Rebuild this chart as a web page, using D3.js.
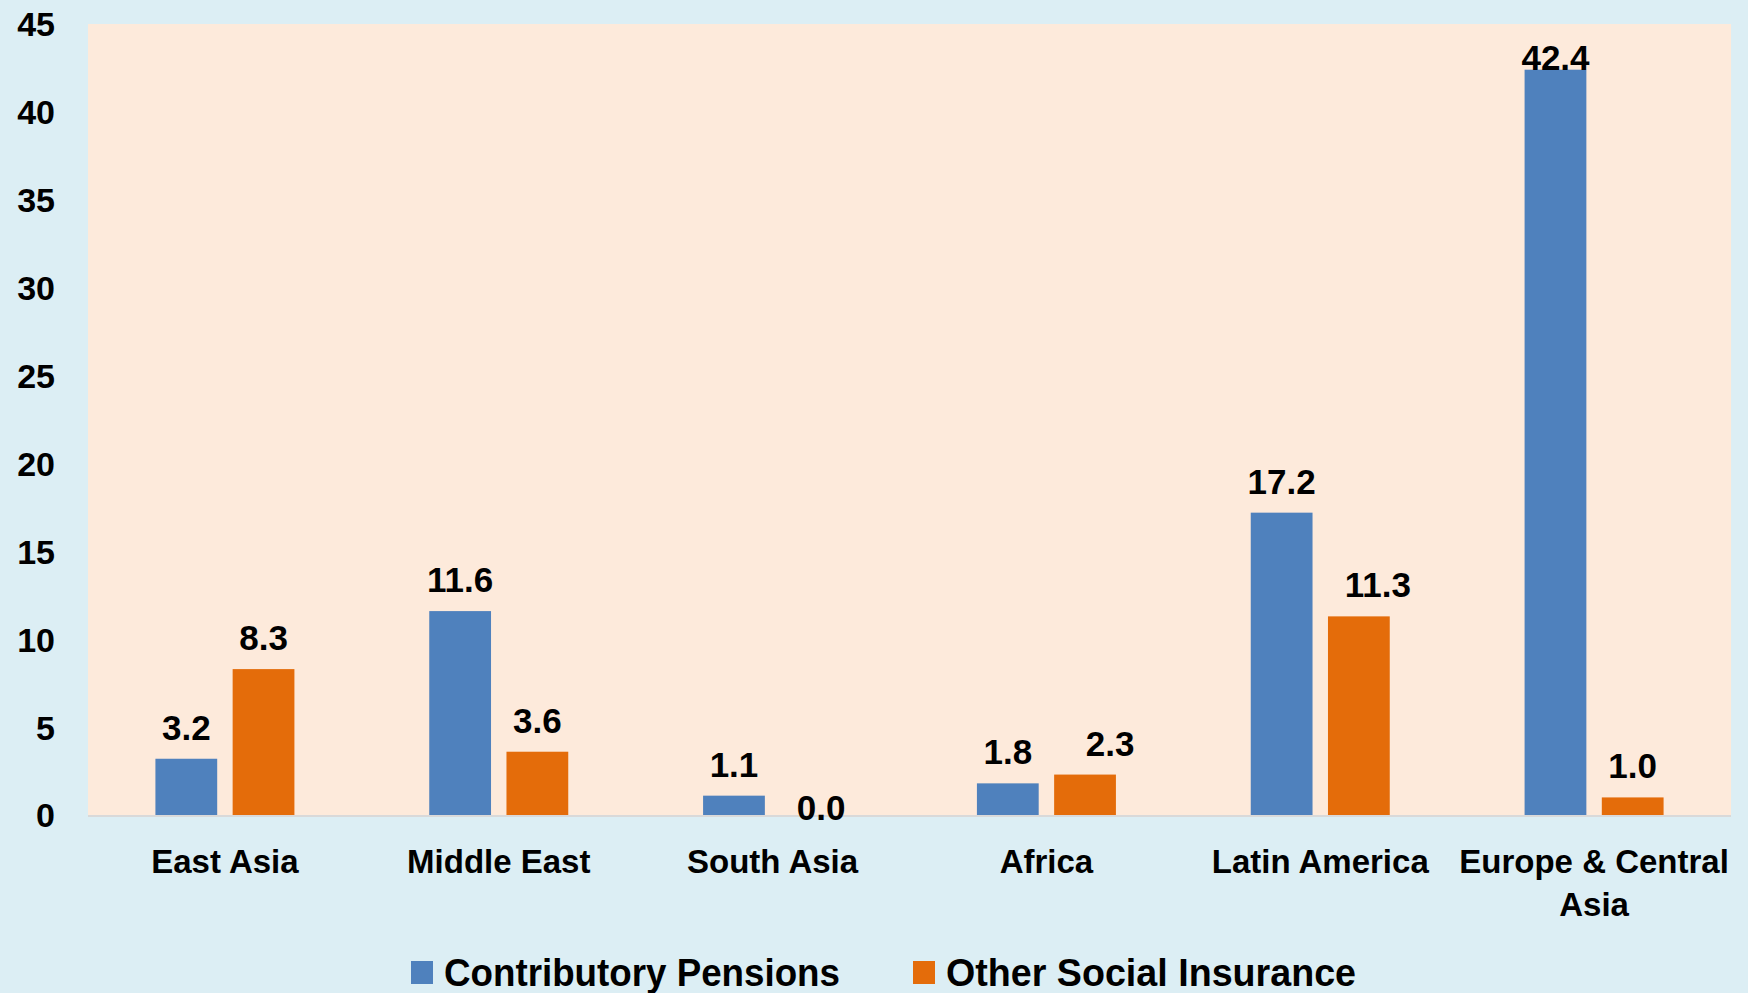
<!DOCTYPE html>
<html>
<head>
<meta charset="utf-8">
<script src="https://cdn.jsdelivr.net/npm/d3@7"></script>
<style>
  html, body { margin: 0; padding: 0; background: #DCEEF4; }
  svg { display: block; }
  text { font-family: "Liberation Sans", Arial, sans-serif; fill: #000; }
</style>
</head>
<body>
<svg id="chart" width="1748" height="993"></svg>
<script>
// Regional spending, two series per region
const categories = ["East Asia", "Middle East", "South Asia", "Africa", "Latin America", "Europe & Central Asia"];
const seriesNames = ["Contributory Pensions", "Other Social Insurance"];
const contributoryPensions = [3.2, 11.6, 1.1, 1.8, 17.2, 42.4];
const otherSocialInsurance = [8.3, 3.6, 0.0, 2.3, 11.3, 1.0];
const yTicks = [0, 5, 10, 15, 20, 25, 30, 35, 40, 45];
const colors = ["#4F81BD", "#E46C0A"];

const seriesValues = [contributoryPensions, otherSocialInsurance];
const rows = categories.map((c, i) => ({
  category: c,
  values: seriesNames.map((s, j) => ({ series: s, idx: j, cat: c, value: seriesValues[j][i] }))
}));

const svg = d3.select("#chart");
const W = 1748, H = 993;
const plot = { left: 88, right: 1731, top: 24, bottom: 815 };

svg.append("rect").attr("width", W).attr("height", H).attr("fill", "#DCEEF4");
svg.append("rect")
  .attr("x", plot.left).attr("y", plot.top)
  .attr("width", plot.right - plot.left).attr("height", plot.bottom - plot.top)
  .attr("fill", "#FDEADB");

const x0 = d3.scaleBand().domain(categories).range([plot.left, plot.right]).paddingInner(0).paddingOuter(0);
const groupW = 139;
const x1 = d3.scaleBand().domain(seriesNames).range([-groupW / 2, groupW / 2]).paddingInner(0.2);
const y = d3.scaleLinear().domain([0, 45]).range([plot.bottom, plot.top]);

// Y axis labels
const yAxis = d3.axisLeft(y).tickValues(yTicks).tickSize(0).tickPadding(0);
const yg = svg.append("g").attr("transform", `translate(55,0)`).call(yAxis);
yg.select(".domain").remove();
yg.selectAll("text")
  .attr("font-family", "Liberation Sans, Arial, sans-serif")
  .attr("font-weight", "bold")
  .attr("font-size", 34)
  .attr("fill", "#000")
  .attr("dy", "0.35em");

// Baseline (under the bars and labels)
svg.append("line")
  .attr("x1", plot.left).attr("x2", plot.right)
  .attr("y1", y(0) + 1).attr("y2", y(0) + 1)
  .attr("stroke", "#D9D9D9").attr("stroke-width", 2);

// Bars
const groups = svg.append("g").selectAll("g").data(rows).join("g")
  .attr("transform", d => `translate(${x0(d.category) + x0.bandwidth() / 2},0)`);

groups.selectAll("rect").data(d => d.values).join("rect")
  .attr("x", d => x1(d.series))
  .attr("width", x1.bandwidth())
  .attr("y", d => y(d.value))
  .attr("height", d => y(0) - y(d.value))
  .attr("fill", d => colors[d.idx]);

// Value labels; a few were nudged sideways, and a zero-height bar's label sits on the baseline
const labelNudge = {
  "South Asia|Other Social Insurance": 10,
  "Africa|Other Social Insurance": 25,
  "Latin America|Other Social Insurance": 19
};
groups.selectAll("text.val").data(d => d.values).join("text")
  .attr("class", "val")
  .attr("x", d => x1(d.series) + x1.bandwidth() / 2 + (labelNudge[d.cat + "|" + d.series] || 0))
  .attr("y", d => d.value === 0 ? y(0) + 5 : Math.max(y(d.value) - 19, 70))
  .attr("text-anchor", "middle")
  .attr("font-weight", "bold")
  .attr("font-size", 35)
  .text(d => d.value.toFixed(1));

// Category labels (wrapped where needed)
const catLines = { "Europe & Central Asia": ["Europe & Central", "Asia"] };
const cg = svg.append("g");
categories.forEach(c => {
  const lines = catLines[c] || [c];
  const t = cg.append("text")
    .attr("x", x0(c) + x0.bandwidth() / 2)
    .attr("y", 873)
    .attr("text-anchor", "middle")
    .attr("font-weight", "bold")
    .attr("font-size", 33);
  lines.forEach((ln, i) => {
    t.append("tspan")
      .attr("x", x0(c) + x0.bandwidth() / 2)
      .attr("dy", i === 0 ? 0 : 43)
      .text(ln);
  });
});

// Legend
const legendItems = [
  { name: seriesNames[0], sx: 411, tx: 444, tw: 396 },
  { name: seriesNames[1], sx: 913, tx: 946, tw: 410 }
];
const lg = svg.append("g");
legendItems.forEach((it, i) => {
  lg.append("rect").attr("x", it.sx).attr("y", 961).attr("width", 22).attr("height", 23).attr("fill", colors[i]);
  lg.append("text")
    .attr("x", it.tx).attr("y", 986)
    .attr("font-family", "Liberation Sans Narrow, Liberation Sans, Arial, sans-serif")
    .attr("font-weight", "bold")
    .attr("font-size", 38)
    .attr("textLength", it.tw)
    .attr("lengthAdjust", "spacingAndGlyphs")
    .text(it.name);
});
</script>
</body>
</html>
